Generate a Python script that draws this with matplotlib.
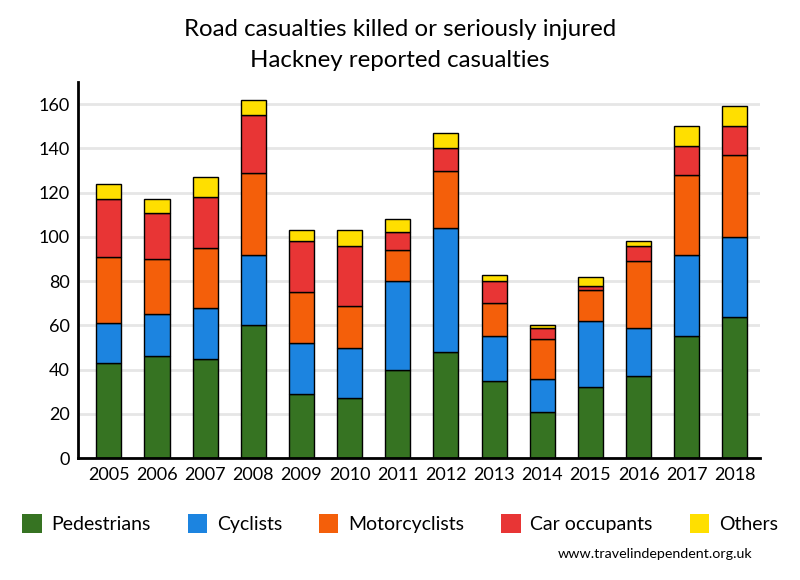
import matplotlib
matplotlib.use('Agg')
import matplotlib.pyplot as plt
import numpy as np
from matplotlib.patches import Patch

plt.rcParams['font.family'] = ['Lato', 'DejaVu Sans']

years = ['2005', '2006', '2007', '2008', '2009', '2010', '2011',
         '2012', '2013', '2014', '2015', '2016', '2017', '2018']
pedestrians = [43, 46, 45, 60, 29, 27, 40, 48, 35, 21, 32, 37, 55, 64]
cyclists = [18, 19, 23, 32, 23, 23, 40, 56, 20, 15, 30, 22, 37, 36]
motorcyclists = [30, 25, 27, 37, 23, 19, 14, 26, 15, 18, 14, 30, 36, 37]
car_occupants = [26, 21, 23, 26, 23, 27, 8, 10, 10, 5, 2, 7, 13, 13]
others = [7, 6, 9, 7, 5, 7, 6, 7, 3, 1, 4, 2, 9, 9]

series = [
    ('Pedestrians', pedestrians, '#367322'),
    ('Cyclists', cyclists, '#1c84e0'),
    ('Motorcyclists', motorcyclists, '#f45f0a'),
    ('Car occupants', car_occupants, '#e83535'),
    ('Others', others, '#ffdf00'),
]

fig = plt.figure(figsize=(8, 5.8), dpi=100)
ax = fig.add_axes([0.0975, 0.21, 0.8525, 0.6486])

x = np.arange(len(years))
bottom = np.zeros(len(years))
for name, vals, col in series:
    ax.bar(x, vals, 0.52, bottom=bottom, color=col, edgecolor='black',
           linewidth=1, zorder=3)
    bottom += np.array(vals)

ax.set_xlim(-0.64, 13.52)
ax.set_ylim(0, 170)
ax.set_yticks(range(0, 161, 20))
ax.set_xticks(x)
ax.set_xticklabels(years)
ax.yaxis.grid(True, color='#e6e6e6', linewidth=2, zorder=0)
ax.tick_params(axis='both', length=0, labelsize=13, pad=6)
for s in ['top', 'right']:
    ax.spines[s].set_visible(False)
for s in ['left', 'bottom']:
    ax.spines[s].set_linewidth(2)
    ax.spines[s].set_zorder(4)

fig.text(0.5, 0.95, 'Road casualties killed or seriously injured',
         ha='center', va='center', fontsize=17.3)
fig.text(0.5, 0.895, 'Hackney reported casualties',
         ha='center', va='center', fontsize=17.3)

handles = [Patch(facecolor=c, edgecolor='none', label=n) for n, v, c in series]
fig.legend(handles=handles, loc='center', bbox_to_anchor=(0.5, 0.097),
           ncol=5, frameon=False, fontsize=14, handlelength=1.0,
           handleheight=1.1, handletextpad=0.5, columnspacing=1.9)

fig.text(0.94, 0.045, 'www.travelindependent.org.uk', ha='right',
         va='center', fontsize=10.3)

fig.savefig('out.png', dpi=100)
